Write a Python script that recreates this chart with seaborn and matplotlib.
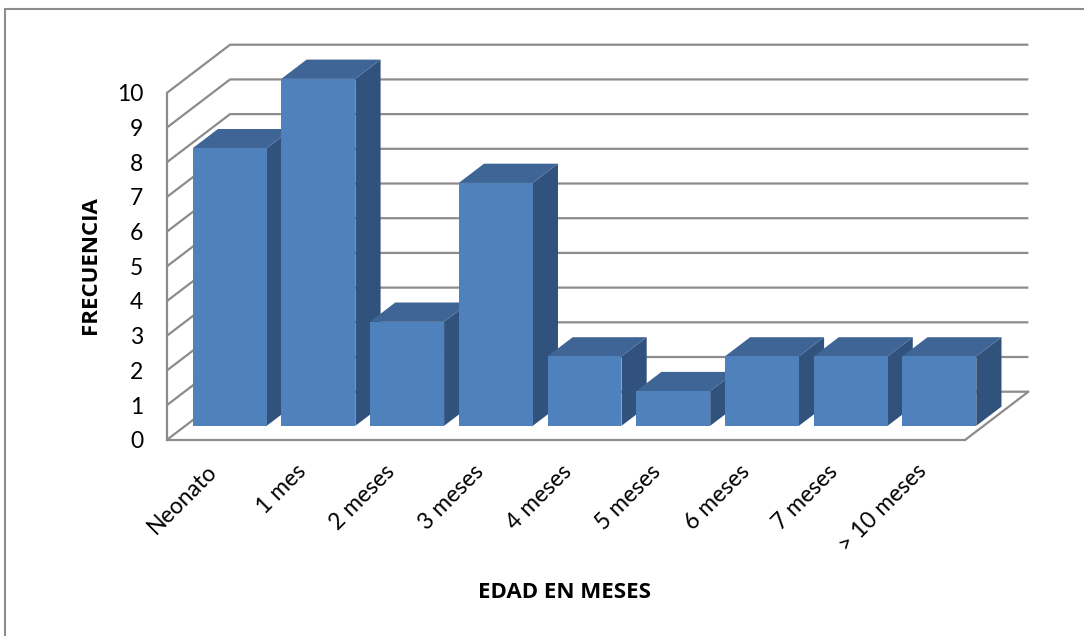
import numpy as np
import matplotlib
matplotlib.use("Agg")
import matplotlib.pyplot as plt
from matplotlib.patches import Polygon, Rectangle
from matplotlib.transforms import ScaledTranslation
import seaborn as sns

# Data
categorias = ["Neonato", "1 mes", "2 meses", "3 meses", "4 meses",
              "5 meses", "6 meses", "7 meses", "> 10 meses"]
frecuencia = [8, 10, 3, 7, 2, 1, 2, 2, 2]
y_ticks = list(range(0, 11))

# Colours
FRONT_C = "#4F81BD"
TOP_C = "#3E6595"
SIDE_C = "#31527D"
GRID_C = "#8C8C8C"

sns.set_theme(style="white")
plt.rcParams["font.family"] = ["Lato", "DejaVu Sans"]

W, H, DPI = 1084, 636, 100
fig = plt.figure(figsize=(W / DPI, H / DPI), dpi=DPI)
ax = fig.add_axes([0, 0, 1, 1])

# Oblique projection: pixel size of one category / one unit, and the depth vector
UX, UY = 88.7, 34.7
CX0, Y0 = 229.7, 425.8
DEPTH = np.array([63 / UX, 48 / UY])       # full floor depth in data units
FRONT, BAR_D, BACK = -0.29, 0.40, 0.71     # planes relative to the bar front faces
BAR_W = 0.834
n = len(categorias)

# Front faces of the bars
sns.barplot(x=categorias, y=frecuencia, order=categorias, color=FRONT_C,
            saturation=1, width=BAR_W, linewidth=0, ax=ax)
ax.set_xlim(-CX0 / UX, (W - CX0) / UX)
ax.set_ylim((Y0 - H) / UY, Y0 / UY)

# Sides and tops, drawn left to right so the next bar covers the previous one
bd = DEPTH * BAR_D
for i, p in enumerate(ax.patches[:n]):
    x0, x1 = p.get_x(), p.get_x() + p.get_width()
    h = p.get_height()
    side = Polygon([(x1, 0), (x1 + bd[0], bd[1]), (x1 + bd[0], h + bd[1]), (x1, h)],
                   closed=True, facecolor=SIDE_C, edgecolor="none", zorder=10 + 2 * i)
    top = Polygon([(x0, h), (x1, h), (x1 + bd[0], h + bd[1]), (x0 + bd[0], h + bd[1])],
                  closed=True, facecolor=TOP_C, edgecolor="none", zorder=10 + 2 * i)
    ax.add_patch(side)
    ax.add_patch(top)
    p.set_zorder(11 + 2 * i)

# Walls: left-wall diagonals and back-wall gridlines
xf = -0.5 + FRONT * DEPTH[0]
xb = -0.5 + BACK * DEPTH[0]
yf_off = FRONT * DEPTH[1]
yb_off = BACK * DEPTH[1]
for v in y_ticks:
    ax.plot([xf, xb, xb + n], [v + yf_off, v + yb_off, v + yb_off],
            color=GRID_C, lw=1.6, zorder=2, solid_capstyle="butt")
# Right edge of the floor
ax.plot([xf + n, xb + n], [yf_off, yb_off], color=GRID_C, lw=1.6, zorder=2)

# Front axes through the library spines
for s in ["top", "right"]:
    ax.spines[s].set_visible(False)
ax.spines["left"].set_position(("data", xf))
ax.spines["left"].set_bounds(yf_off, y_ticks[-1] + yf_off)
ax.spines["bottom"].set_position(("data", yf_off))
ax.spines["bottom"].set_bounds(xf, xf + n)
for s in ["left", "bottom"]:
    ax.spines[s].set_color(GRID_C)
    ax.spines[s].set_linewidth(1.6)
    ax.spines[s].set_zorder(3)

ax.set_yticks([v + yf_off for v in y_ticks], [str(v) for v in y_ticks])
ax.tick_params(axis="y", direction="out", length=6, width=1.4, color=GRID_C,
               labelsize=16.5, pad=11, labelcolor="black")
ax.set_xticks([i + FRONT * DEPTH[0] for i in range(n)], categorias)
ax.tick_params(axis="x", length=0, labelsize=16.5, pad=15, labelcolor="black")
shift = ScaledTranslation(-5 / DPI, 0, fig.dpi_scale_trans)
for lab in ax.get_xticklabels():
    lab.set_rotation(45)
    lab.set_ha("right")
    lab.set_va("top")
    lab.set_rotation_mode("anchor")
    lab.set_transform(lab.get_transform() + shift)

ax.set_xlabel("")
ax.set_ylabel("")
title_font = dict(fontsize=16, fontweight="bold", color="black",
                  family=["Open Sans", "DejaVu Sans"])
fig.text(90 / W, 1 - 265 / H, "FRECUENCIA", rotation=90, ha="center", va="center",
         **title_font)
fig.text(565 / W, 1 - 592 / H, "EDAD EN MESES", ha="center", va="center",
         **title_font)

# Chart-area border
fig.patches.append(Rectangle((5 / W, -0.1), 1.2, 1 - 8.5 / H + 0.1,
                             transform=fig.transFigure, fill=False,
                             edgecolor="#8C8C8C", lw=1.5, zorder=0))

fig.savefig("out.png", dpi=DPI)
